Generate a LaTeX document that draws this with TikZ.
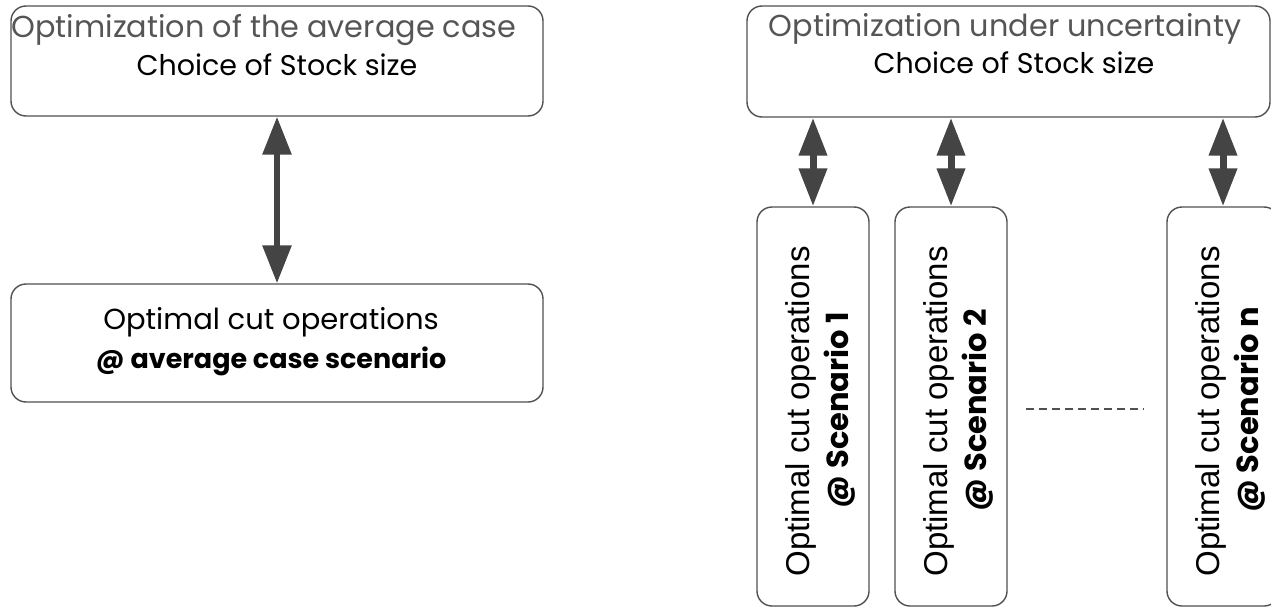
\documentclass[tikz,border=0pt]{standalone}
\usepackage{fontspec}
\setmainfont{Poppins}
\newfontfamily\vfont{Liberation Sans}
\usetikzlibrary{arrows.meta}
\definecolor{edge}{HTML}{505050}
\definecolor{arrowc}{HTML}{444444}
\definecolor{titlec}{HTML}{555555}
\begin{document}
\begin{tikzpicture}[x=1pt,y=1pt,
  box/.style={draw=edge,line width=1.4pt,rounded corners=15pt,inner sep=0pt},
  bigarrow/.style={draw=arrowc,line width=6pt,{Triangle[length=38pt,width=28pt]}-{Triangle[length=38pt,width=28pt]}},
  smallarrow/.style={draw=arrowc,line width=7pt,{Triangle[length=38pt,width=27pt]}-{Triangle[length=38pt,width=27pt]}},
  title/.style={text=titlec,font=\fontsize{30.3}{34}\selectfont,anchor=base,inner sep=0pt},
  sub/.style={text=black,font=\fontsize{28.5}{32}\selectfont,anchor=base,inner sep=0pt},
  vtext/.style={rotate=90,inner sep=0pt,anchor=base},
]
\useasboundingbox (0,0) rectangle (1271,-607);
% left side
\node[box,minimum width=532pt,minimum height=110pt] (lt) at (277,-61) {};
\node[title] (ltt) at (264,-38) {Optimization of the average case};
\node[sub] (lts) at (277,-76) {Choice of Stock size};
\node[box,minimum width=532pt,minimum height=118pt] (lb) at (277,-343) {};
\node[sub,font=\fontsize{29}{33}\selectfont] (lb1) at (271,-329) {Optimal cut operations};
\node[sub,font=\bfseries\fontsize{27}{31}\selectfont] (lb2) at (271,-368) {@ average case scenario};
\draw[bigarrow] (lt.south) -- (lb.north);
% right side
\node[box,minimum width=523pt,minimum height=111pt] (rt) at (1008.5,-61.5) {};
\node[title] (rtt) at (1005,-37) {Optimization under uncertainty};
\node[sub] (rts) at (1014,-74) {Choice of Stock size};
\foreach \n/\cx in {1/813,2/951,n/1223}{
  \node[box,minimum width=112pt,minimum height=399pt] (s\n) at (\cx,-406.5) {};
  \node[vtext,font=\vfont\fontsize{33}{37}\selectfont] (s\n a) at (\cx-4,-411.5) {Optimal cut operations};
  \node[vtext,font=\bfseries\fontsize{30.5}{34}\selectfont] (s\n b) at (\cx+35,-410) {@ Scenario \n};
  \draw[smallarrow] (s\n.north |- rt.south) -- (s\n.north);
}
\coordinate (d1) at (1026,-409);
\coordinate (d2) at (1144,-409);
\draw[edge,line width=1.3pt,dash pattern=on 8pt off 5pt] (d1) -- (d2);
\end{tikzpicture}
\end{document}
